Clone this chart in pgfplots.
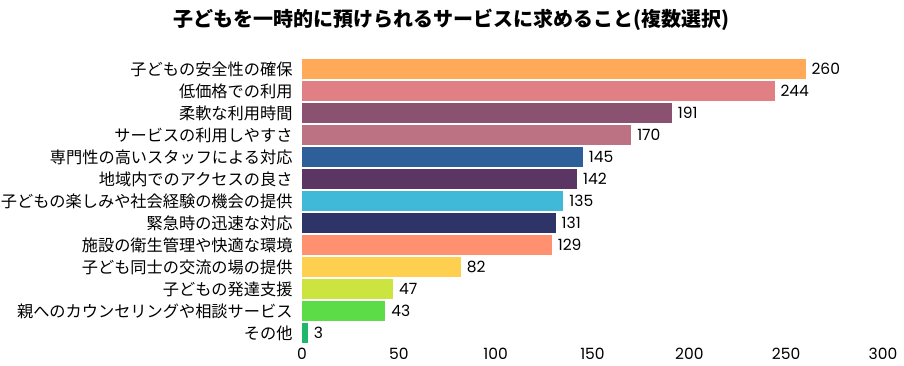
\documentclass[border=0pt]{standalone}
\usepackage{fontspec}
\setmainfont{Noto Sans CJK JP}
\newfontfamily\numfont{Poppins}
\usepackage{pgfplots}
\pgfplotsset{compat=1.18}
\definecolor{c1}{RGB}{255,170,88}
\definecolor{c2}{RGB}{224,128,132}
\definecolor{c3}{RGB}{138,82,112}
\definecolor{c4}{RGB}{188,114,130}
\definecolor{c5}{RGB}{46,95,152}
\definecolor{c6}{RGB}{91,53,99}
\definecolor{c7}{RGB}{64,184,216}
\definecolor{c8}{RGB}{47,52,104}
\definecolor{c9}{RGB}{255,144,112}
\definecolor{c10}{RGB}{255,208,80}
\definecolor{c11}{RGB}{204,228,64}
\definecolor{c12}{RGB}{92,221,72}
\definecolor{c13}{RGB}{29,184,106}
\begin{document}
\begin{tikzpicture}[x=1pt,y=1pt]
\path[use as bounding box] (0,0) rectangle (904,366);
\node[font=\fontsize{20}{22}\selectfont\bfseries] at (451,346) {子どもを一時的に預けられるサービスに求めること(複数選択)};
\begin{axis}[
  at={(302pt,22pt)}, anchor=south west,
  scale only axis, width=581pt, height=286pt,
  xbar, bar width=19.5pt, bar shift=0pt,
  xmin=0, xmax=300, ymin=-0.5, ymax=12.5,
  y dir=reverse,
  axis line style={draw=none},
  major tick length=0pt,
  xtick={0,50,...,300},
  ytick={0,...,12},
  yticklabels={子どもの安全性の確保,低価格での利用,柔軟な利用時間,サービスの利用しやすさ,専門性の高いスタッフによる対応,地域内でのアクセスの良さ,子どもの楽しみや社会経験の機会の提供,緊急時の迅速な対応,施設の衛生管理や快適な環境,子ども同士の交流の場の提供,子どもの発達支援,親へのカウンセリングや相談サービス,その他},
  yticklabel style={font=\fontsize{16.2}{17}\selectfont, xshift=-6pt},
  xticklabel style={font=\numfont\fontsize{15.5}{17}\selectfont, yshift=-1pt},
  /pgf/number format/assume math mode=true,
  nodes near coords,
  every node near coord/.append style={font=\numfont\fontsize{15.5}{17}\selectfont, black, xshift=2.5pt},
  clip=false,
]
\addplot[fill=c1, draw=none] coordinates {(260,0)};
\addplot[fill=c2, draw=none] coordinates {(244,1)};
\addplot[fill=c3, draw=none] coordinates {(191,2)};
\addplot[fill=c4, draw=none] coordinates {(170,3)};
\addplot[fill=c5, draw=none] coordinates {(145,4)};
\addplot[fill=c6, draw=none] coordinates {(142,5)};
\addplot[fill=c7, draw=none] coordinates {(135,6)};
\addplot[fill=c8, draw=none] coordinates {(131,7)};
\addplot[fill=c9, draw=none] coordinates {(129,8)};
\addplot[fill=c10, draw=none] coordinates {(82,9)};
\addplot[fill=c11, draw=none] coordinates {(47,10)};
\addplot[fill=c12, draw=none] coordinates {(43,11)};
\addplot[fill=c13, draw=none] coordinates {(3,12)};
\end{axis}
\end{tikzpicture}
\end{document}
